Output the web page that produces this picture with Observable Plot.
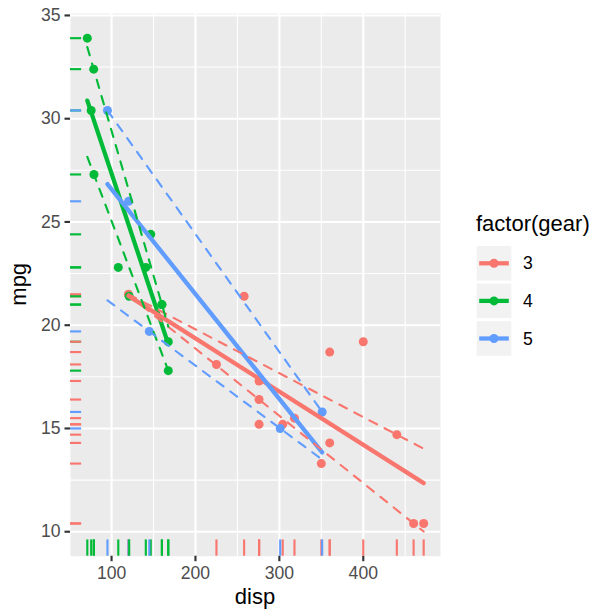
<!DOCTYPE html>
<html>
<head>
<meta charset="utf-8">
<script src="https://cdn.jsdelivr.net/npm/d3@7"></script>
<script src="https://cdn.jsdelivr.net/npm/@observablehq/plot@0.6"></script>
<style>
  body { margin: 0; background: #ffffff; }
  #chart { position: relative; width: 600px; height: 614px; font-family: "Liberation Sans", Arial, sans-serif; }
  #chart svg { position: absolute; left: 0; top: 0; }
</style>
</head>
<body>
<div id="chart"></div>
<script>
// mtcars: engine displacement, fuel economy and number of forward gears
const disp = [160, 160, 108, 258, 360, 225, 360, 146.7, 140.8, 167.6, 167.6, 275.8, 275.8, 275.8, 472, 460,
              440, 78.7, 75.7, 71.1, 120.1, 318, 304, 350, 400, 79, 120.3, 95.1, 351, 145, 301, 121];
const mpg = [21, 21, 22.8, 21.4, 18.7, 18.1, 14.3, 24.4, 22.8, 19.2, 17.8, 16.4, 17.3, 15.2, 10.4, 10.4,
             14.7, 32.4, 30.4, 33.9, 21.5, 15.5, 15.2, 13.3, 19.2, 27.3, 26, 30.4, 15.8, 19.7, 15, 21.4];
const gear = [4, 4, 4, 3, 3, 3, 3, 4, 4, 4, 4, 3, 3, 3, 3, 3,
              3, 4, 4, 4, 3, 3, 3, 3, 3, 4, 5, 5, 5, 5, 5, 4];

const gearLevels = ["3", "4", "5"];
const gearColors = ["#F8766D", "#00BA38", "#619CFF"];
const quantiles = [0.25, 0.75];
const xTicks = [100, 200, 300, 400];
const xMinor = [150, 250, 350, 450];
const yTicks = [10, 15, 20, 25, 30, 35];
const yMinor = [12.5, 17.5, 22.5, 27.5, 32.5];

const cars = disp.map((d, i) => ({disp: d, mpg: mpg[i], gear: String(gear[i])}));

// Linear quantile regression: the optimum passes through two observations,
// so search every pair for the lowest check loss.
function quantileFit(pts, tau) {
  let best = null, bestLoss = Infinity;
  for (let i = 0; i < pts.length; i++) {
    for (let j = i + 1; j < pts.length; j++) {
      if (pts[i].disp === pts[j].disp) continue;
      const slope = (pts[j].mpg - pts[i].mpg) / (pts[j].disp - pts[i].disp);
      const icpt = pts[i].mpg - slope * pts[i].disp;
      let loss = 0;
      for (const p of pts) {
        const r = p.mpg - (icpt + slope * p.disp);
        loss += r >= 0 ? tau * r : (tau - 1) * r;
      }
      if (loss < bestLoss - 1e-9) { bestLoss = loss; best = {slope, icpt}; }
    }
  }
  const [x0, x1] = d3.extent(pts, d => d.disp);
  return [x0, x1].map(x => ({disp: x, mpg: best.icpt + best.slope * x}));
}

const quantileLines = [];
for (const g of gearLevels) {
  const pts = cars.filter(d => d.gear === g);
  for (const tau of quantiles) {
    for (const p of quantileFit(pts, tau)) quantileLines.push({...p, gear: g, key: g + "-" + tau});
  }
}

// Continuous scales padded by 5% of the data range on each side
function padded(values) {
  const [lo, hi] = d3.extent(values);
  const pad = (hi - lo) * 0.05;
  return [lo - pad, hi + pad];
}
const xDomain = padded(disp);
const yDomain = padded([...mpg, ...quantileLines.map(d => d.mpg)]);
const rugX = 0.03 * (xDomain[1] - xDomain[0]);
const rugY = 0.03 * (yDomain[1] - yDomain[0]);

const plot = Plot.plot({
  width: 600,
  height: 614,
  marginLeft: 70,
  marginRight: 160,
  marginTop: 13,
  marginBottom: 58.3,
  style: {fontFamily: "'Liberation Sans', Arial, sans-serif", background: "transparent"},
  x: {domain: xDomain, label: null},
  y: {domain: yDomain, label: null},
  color: {domain: gearLevels, range: gearColors},
  marks: [
    Plot.frame({fill: "#EBEBEB", stroke: null}),
    Plot.ruleX(xMinor, {stroke: "white", strokeWidth: 1.07}),
    Plot.ruleY(yMinor, {stroke: "white", strokeWidth: 1.07}),
    Plot.ruleX(xTicks, {stroke: "white", strokeWidth: 2.13}),
    Plot.ruleY(yTicks, {stroke: "white", strokeWidth: 2.13}),
    Plot.axisX({ticks: xTicks, tickSize: 5.5, tickPadding: 4.4, fontSize: 17.6,
                stroke: "#333333", fill: "#4D4D4D", strokeWidth: 2.13, label: null}),
    Plot.axisY({ticks: yTicks, tickSize: 5.5, tickPadding: 4.4, fontSize: 17.6,
                stroke: "#333333", fill: "#4D4D4D", strokeWidth: 2.13, label: null}),
    Plot.dot(cars, {x: "disp", y: "mpg", fill: "gear", r: 4.5}),
    Plot.linearRegressionY(cars, {x: "disp", y: "mpg", stroke: "gear", ci: 0, strokeWidth: 4.27}),
    Plot.line(quantileLines, {x: "disp", y: "mpg", z: "key", stroke: "gear",
                              strokeWidth: 2.13, strokeDasharray: "8.5,8.5"}),
    Plot.ruleX(cars, {x: "disp", y1: yDomain[0], y2: yDomain[0] + rugY, stroke: "gear", strokeWidth: 2.13}),
    Plot.ruleY(cars, {y: "mpg", x1: xDomain[0], x2: xDomain[0] + rugX, stroke: "gear", strokeWidth: 2.13})
  ]
});

const chart = document.getElementById("chart");
chart.appendChild(plot);

// Axis titles and the colour legend
const over = d3.select(chart).append("svg")
  .attr("width", 600).attr("height", 614)
  .style("pointer-events", "none")
  .style("font-family", "'Liberation Sans', Arial, sans-serif");

over.append("text").attr("x", 255).attr("y", 604).attr("text-anchor", "middle")
  .attr("font-size", 22).attr("fill", "black").text("disp");
over.append("text").attr("transform", "translate(26,284.3) rotate(-90)").attr("text-anchor", "middle")
  .attr("font-size", 22).attr("fill", "black").text("mpg");

over.append("text").attr("x", 476).attr("y", 231).attr("font-size", 22).attr("fill", "black")
  .text("factor(gear)");

gearLevels.forEach((g, i) => {
  const top = 246 + i * 37.6;
  const k = over.append("g").attr("transform", `translate(476.7,${top})`);
  k.append("rect").attr("width", 34.6).attr("height", 34.6).attr("fill", "#F2F2F2");
  k.append("line").attr("x1", 2.5).attr("x2", 32.1).attr("y1", 17.3).attr("y2", 17.3)
    .attr("stroke", gearColors[i]).attr("stroke-width", 4.27);
  k.append("circle").attr("cx", 17.3).attr("cy", 17.3).attr("r", 4.5).attr("fill", gearColors[i]);
  over.append("text").attr("x", 523).attr("y", top + 17.3).attr("dy", "0.35em")
    .attr("font-size", 17.6).attr("fill", "black").text(g);
});
</script>
</body>
</html>
